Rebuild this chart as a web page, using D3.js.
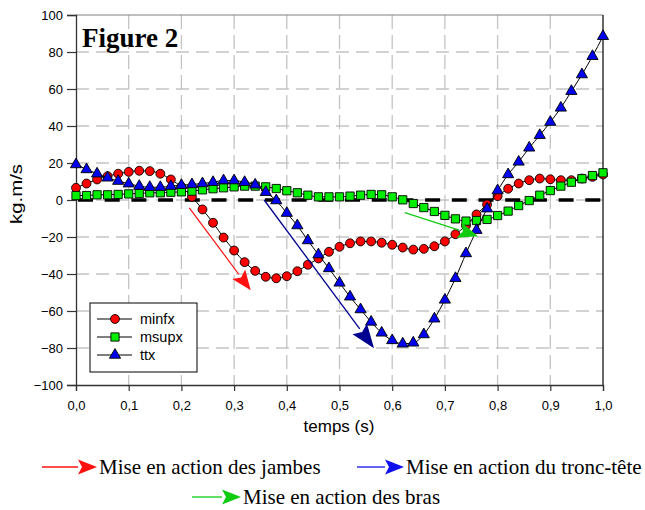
<!DOCTYPE html>
<html>
<head>
<meta charset="utf-8">
<script src="https://cdn.jsdelivr.net/npm/d3@7"></script>
<style>
  body { margin: 0; background: #fff; }
  svg { display: block; }
</style>
</head>
<body>
<svg id="chart" width="645" height="510"></svg>
<script>
// Time axis (s)
var times = [0.00, 0.02, 0.04, 0.06, 0.08, 0.10, 0.12, 0.14, 0.16, 0.18,
             0.20, 0.22, 0.24, 0.26, 0.28, 0.30, 0.32, 0.34, 0.36, 0.38,
             0.40, 0.42, 0.44, 0.46, 0.48, 0.50, 0.52, 0.54, 0.56, 0.58,
             0.60, 0.62, 0.64, 0.66, 0.68, 0.70, 0.72, 0.74, 0.76, 0.78,
             0.80, 0.82, 0.84, 0.86, 0.88, 0.90, 0.92, 0.94, 0.96, 0.98, 1.00];

var minfx = [6.6, 8.9, 11.1, 12.9, 14.2, 15.2, 15.8, 15.6, 14.2, 11.1,
             7.1, 1.7, -5.1, -12.3, -20.3, -27.3, -33.6, -38.3, -41.5, -42.3,
             -41.2, -38.5, -35.0, -31.6, -28.0, -25.3, -23.4, -22.4, -22.4, -23.1,
             -24.2, -25.7, -26.8, -26.4, -25.0, -22.4, -18.5, -13.8, -7.8, -2.4,
             2.1, 6.1, 8.9, 10.7, 11.6, 11.2, 10.7, 10.7, 11.6, 12.5, 13.8];

var msupx = [2.4, 2.4, 2.8, 2.8, 3.0, 3.3, 3.5, 3.9, 3.9, 4.2,
             4.4, 4.8, 5.5, 6.1, 6.6, 7.1, 7.5, 7.5, 7.1, 6.2,
             5.0, 3.9, 2.6, 1.7, 1.7, 1.7, 2.1, 2.6, 3.0, 2.8,
             1.7, 0.1, -1.9, -4.1, -6.2, -8.3, -10.2, -11.4, -11.1, -10.5,
             -8.4, -6.0, -3.0, -0.3, 2.6, 5.1, 7.5, 9.6, 11.5, 13.2, 14.7];

var ttx = [19.2, 16.5, 14.2, 12.0, 10.2, 8.8, 7.5, 6.9, 6.9, 7.5,
           8.0, 8.4, 8.9, 9.6, 10.5, 10.5, 9.6, 8.2, 4.2, -0.3,
           -7.1, -13.8, -21.9, -29.5, -37.0, -44.8, -52.3, -59.2, -65.9, -71.8,
           -75.9, -77.7, -77.2, -72.7, -64.2, -54.0, -42.3, -28.9, -16.3, -4.7,
           5.1, 13.8, 20.6, 28.2, 35.0, 42.1, 49.8, 58.8, 67.8, 77.7, 88.5];

var xTicks = [0, 0.1, 0.2, 0.3, 0.4, 0.5, 0.6, 0.7, 0.8, 0.9, 1.0];
var yTicks = [-100, -80, -60, -40, -20, 0, 20, 40, 60, 80, 100];

// Annotation arrows in data coordinates: [t0, v0, t1, v1]
var arrowLegs = [0.215, -4.2, 0.3315, -48.8];
var arrowTrunk = [0.357, 0.0, 0.5655, -80.1];
var arrowArms = [0.624, -6.8, 0.763, -19.6];

var seriesNames = ['minfx', 'msupx', 'ttx'];
var captions = ['Mise en action des jambes', 'Mise en action du tronc-t\u00eate', 'Mise en action des bras'];

var svg = d3.select('#chart');

var margin = { left: 76, right: 42, top: 15, bottom: 125 };
var width = 645 - margin.left - margin.right;
var height = 510 - margin.top - margin.bottom;

var x = d3.scaleLinear().domain([0, 1]).range([margin.left, margin.left + width]);
var y = d3.scaleLinear().domain([-100, 100]).range([margin.top + height, margin.top]);

var fmt = function (d) { return d3.format('.1f')(d).replace('.', ','); };
var sans = 'Liberation Sans, Arial, sans-serif';
var serif = 'Liberation Serif, Times New Roman, serif';

// Grid
var grid = svg.append('g').attr('class', 'grid');
grid.selectAll('line.h')
    .data(yTicks.filter(function (d) { return d !== -100 && d !== 100; }))
    .enter().append('line')
    .attr('x1', x(0)).attr('x2', x(1))
    .attr('y1', function (d) { return y(d); })
    .attr('y2', function (d) { return y(d); })
    .attr('stroke', '#c4c4c4').attr('stroke-width', 1.3)
    .attr('stroke-dasharray', '13,7');
grid.selectAll('line.v')
    .data(xTicks.filter(function (d) { return d !== 0 && d !== 1; }))
    .enter().append('line')
    .attr('y1', y(100)).attr('y2', y(-100))
    .attr('x1', function (d) { return x(d); })
    .attr('x2', function (d) { return x(d); })
    .attr('stroke', '#c4c4c4').attr('stroke-width', 1.3)
    .attr('stroke-dasharray', '14,6');

// Frame top/right
svg.append('line').attr('x1', x(0)).attr('x2', x(1)).attr('y1', y(100)).attr('y2', y(100))
    .attr('stroke', '#808080').attr('stroke-width', 1.2);
svg.append('line').attr('x1', x(1)).attr('x2', x(1)).attr('y1', y(100)).attr('y2', y(-100))
    .attr('stroke', '#000').attr('stroke-width', 1.2);

// Zero reference line
svg.append('line')
    .attr('x1', x(0) + 2).attr('x2', x(1))
    .attr('y1', y(0)).attr('y2', y(0))
    .attr('stroke', '#000').attr('stroke-width', 3.5)
    .attr('stroke-dasharray', '15,11.7');

// Axes
var yAxis = d3.axisLeft(y).tickValues(yTicks).tickSize(9).tickPadding(4);
var xAxis = d3.axisBottom(x).tickValues(xTicks).tickFormat(fmt).tickSize(6).tickPadding(10);

var gy = svg.append('g').attr('transform', 'translate(' + x(0) + ',0)').call(yAxis);
var gx = svg.append('g').attr('transform', 'translate(0,' + y(-100) + ')').call(xAxis);
[gx, gy].forEach(function (g) {
    g.selectAll('path.domain').attr('stroke', '#333').attr('stroke-width', 1.3);
    g.selectAll('.tick line').attr('stroke', '#333').attr('stroke-width', 1.2);
    g.selectAll('.tick text').attr('fill', '#000')
        .style('font-family', sans).style('font-size', '13px');
});

svg.append('text')
    .attr('x', 339).attr('y', 432)
    .attr('text-anchor', 'middle')
    .style('font-family', sans).style('font-size', '17px')
    .text('temps (s)');

svg.append('text')
    .attr('transform', 'translate(22,194) rotate(-90)')
    .attr('text-anchor', 'middle')
    .attr('textLength', 60).attr('lengthAdjust', 'spacingAndGlyphs')
    .style('font-family', sans).style('font-size', '17px')
    .text('kg.m/s');

svg.append('text')
    .attr('x', 82).attr('y', 47)
    .style('font-family', serif)
    .style('font-size', '27px').style('font-weight', 'bold')
    .text('Figure 2');

// Series
var seriesData = [
    { name: 'minfx', values: minfx, fill: '#ff0000', symbol: d3.symbolCircle, size: 62 },
    { name: 'msupx', values: msupx, fill: '#00ee00', symbol: d3.symbolSquare, size: 68 },
    { name: 'ttx', values: ttx, fill: '#0000ee', symbol: d3.symbolTriangle, size: 54 }
];

var line = d3.line()
    .x(function (d) { return x(d[0]); })
    .y(function (d) { return y(d[1]); })
    .curve(d3.curveMonotoneX);

seriesData.forEach(function (s) {
    var pts = times.map(function (t, i) { return [t, s.values[i]]; });
    var g = svg.append('g').attr('class', 'series ' + s.name);
    g.append('path')
        .attr('d', line(pts))
        .attr('fill', 'none').attr('stroke', '#000').attr('stroke-width', 1);
    g.selectAll('path.mark')
        .data(pts)
        .enter().append('path')
        .attr('class', 'mark')
        .attr('d', d3.symbol().type(s.symbol).size(s.size))
        .attr('transform', function (d) { return 'translate(' + x(d[0]) + ',' + y(d[1]) + ')'; })
        .attr('fill', s.fill).attr('stroke', '#000').attr('stroke-width', 0.9);
});

// Arrow helper: line plus filled head
var drawArrow = function (x0, y0, x1, y1, color, lineWidth, headLen, headHalf) {
    var dx = x1 - x0, dy = y1 - y0;
    var len = Math.sqrt(dx * dx + dy * dy);
    var ux = dx / len, uy = dy / len;
    var bx = x1 - ux * headLen, by = y1 - uy * headLen;
    svg.append('line')
        .attr('x1', x0).attr('y1', y0).attr('x2', bx).attr('y2', by)
        .attr('stroke', color).attr('stroke-width', lineWidth);
    svg.append('path')
        .attr('d', 'M' + x1 + ',' + y1 +
            'L' + (bx - uy * headHalf) + ',' + (by + ux * headHalf) +
            'L' + (bx + ux * 4) + ',' + (by + uy * 4) +
            'L' + (bx + uy * headHalf) + ',' + (by - ux * headHalf) + 'Z')
        .attr('fill', color);
};

drawArrow(x(arrowLegs[0]), y(arrowLegs[1]), x(arrowLegs[2]), y(arrowLegs[3]), '#ff1010', 1.2, 20, 8);
drawArrow(x(arrowTrunk[0]), y(arrowTrunk[1]), x(arrowTrunk[2]), y(arrowTrunk[3]), '#000090', 1.3, 24, 9);
drawArrow(x(arrowArms[0]), y(arrowArms[1]), x(arrowArms[2]), y(arrowArms[3]), '#10cc10', 1.2, 20, 8);

// Legend
var legend = svg.append('g').attr('transform', 'translate(90,303)');
legend.append('rect')
    .attr('width', 107).attr('height', 69)
    .attr('fill', '#fff').attr('stroke', '#000').attr('stroke-width', 1);
seriesData.forEach(function (s, i) {
    var ly = 16 + i * 18;
    legend.append('line').attr('x1', 7).attr('x2', 42).attr('y1', ly).attr('y2', ly)
        .attr('stroke', '#000').attr('stroke-width', 1);
    legend.append('path')
        .attr('d', d3.symbol().type(s.symbol).size(s.size)())
        .attr('transform', 'translate(25,' + ly + ')')
        .attr('fill', s.fill).attr('stroke', '#000').attr('stroke-width', 0.9);
    legend.append('text')
        .attr('x', 50).attr('y', ly + 5)
        .style('font-family', sans).style('font-size', '14.5px')
        .text(seriesNames[i]);
});

// Caption arrows
var capColors = ['#ff1010', '#1010ee', '#10cc10'];
var capPos = [[42, 467, 99], [357, 467, 406], [192, 497, 243]];
capPos.forEach(function (p, i) {
    drawArrow(p[0], p[1], p[2] - 2, p[1], capColors[i], 1.3, 19, 7.5);
    svg.append('text')
        .attr('x', p[2]).attr('y', p[1] + 7)
        .style('font-family', serif)
        .style('font-size', '21px')
        .text(captions[i]);
});
</script>
</body>
</html>
